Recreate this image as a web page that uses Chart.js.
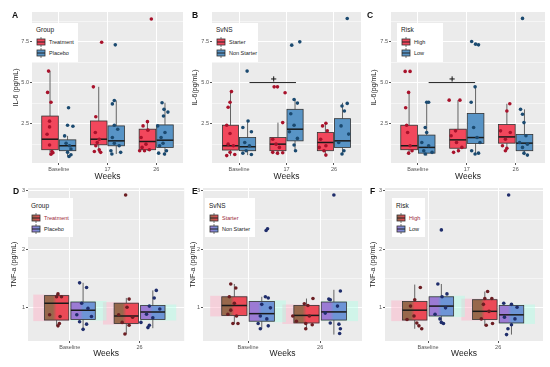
<!DOCTYPE html>
<html>
<head>
<meta charset="utf-8">
<script src="https://cdn.jsdelivr.net/npm/chart.js@4.4.0/dist/chart.umd.min.js"></script>
<style>
body{margin:0;background:#fff;width:550px;height:367px;position:relative;overflow:hidden;font-family:"Liberation Sans",Arial,sans-serif}
canvas{position:absolute}
.tag{position:absolute;font-weight:bold;font-size:8.5px;color:#111;line-height:1}
.lg{position:absolute;background:#fff;font-size:5.5px;color:#222}
.lg .t{font-size:6.5px;line-height:8px;margin:3px 0 2.5px 4px;color:#222}
.lg .k{display:flex;align-items:center;height:11px;padding-left:4px;white-space:nowrap}
.lg svg{margin-right:3px}
</style>
</head>
<body>
<script>
// categories and ticks
const weeksTop = ["Baseline", "17", "26"];
const weeksBottom = ["Baseline", "26"];
const ilMajor = [2.5, 5, 7.5];
const ilLabels = ["2.5", "5.0", "7.5"];
const ilMinor = [1.25, 3.75, 6.25, 8.75];
const tnfMajor = [1, 2, 3];
const tnfLabels = ["1", "2", "3"];
const tnfMinor = [1.5, 2.5];

// box stats per week: [lower whisker, q1, median, q3, upper whisker]
// points: [x on week axis (jittered), value]

// A - IL-6 by Group
const aTreatBox = [[0.65, 0.91, 1.55, 2.96, 5.7], [0.75, 1.21, 1.55, 2.66, 4.74], [0.85, 0.91, 1.41, 2.16, 2.62]];
const aPlaceboBox = [[0.5, 0.85, 1.15, 1.51, 1.75], [0.65, 1.15, 1.45, 2.36, 3.91], [0.54, 1.05, 1.49, 2.42, 3.77]];
const aTreatPts = [[0.79,5.7],[0.77,4.4],[0.84,3.8],[0.81,2.65],[0.81,2.3],[0.76,1.85],[0.81,1.2],[0.86,0.8],[0.84,0.63],[0.88,0.72],
  [1.88,7.46],[1.71,4.74],[1.76,2.92],[1.75,1.96],[1.83,1.55],[1.79,1.35],[1.76,1.15],[1.83,0.9],[1.86,0.75],[1.73,0.8],
  [2.9,8.87],[2.82,2.62],[2.73,2.36],[2.83,2.1],[2.69,1.65],[2.79,1.25],[2.71,1.05],[2.86,0.91],[2.76,0.85],[2.66,0.85]];
const aPlaceboPts = [[1.2,3.47],[1.18,2.4],[1.29,2.34],[1.12,1.75],[1.15,1.3],[1.22,1.15],[1.25,0.95],[1.18,0.75],[1.25,0.6],[1.21,0.5],
  [2.16,7.3],[2.14,3.91],[2.1,3.7],[2.14,2.4],[2.21,2.16],[2.1,1.65],[2.14,1.3],[2.24,1.15],[2.07,0.85],[2.09,0.65],[2.27,0.75],
  [3.12,3.77],[3.16,3.37],[3.24,3.2],[3.15,2.96],[3.03,2.36],[3.18,1.96],[3.1,1.65],[3.14,1.3],[3.07,1.15],[3.21,0.85],[3.17,0.65],[3.05,0.7]];

// B - IL-6 by SvNS
const bStarterBox = [[0.54, 0.89, 1.15, 2.4, 4.48], [0.58, 0.85, 1.25, 1.65, 2.56], [0.54, 0.85, 1.35, 1.96, 2.52]];
const bNonBox = [[0.58, 0.85, 1.09, 1.65, 2.66], [0.85, 1.45, 2.16, 3.37, 3.97], [0.65, 1.05, 1.45, 2.8, 3.77]];
const bStarterPts = [[0.84,4.45],[0.81,3.8],[0.77,3.5],[0.74,2.4],[0.81,1.9],[0.77,1.25],[0.88,1.15],[0.81,0.75],[0.74,0.55],[0.91,0.62],
  [1.74,4.74],[1.81,4.74],[1.97,4.38],[1.92,2.56],[1.71,1.55],[1.78,1.25],[1.85,1.05],[1.71,0.75],[1.81,0.7],[1.92,0.72],
  [2.83,2.52],[2.76,2.36],[2.86,2.06],[2.72,1.55],[2.83,1.15],[2.69,1.05],[2.79,0.85],[2.83,0.58]];
const bNonPts = [[1.17,5.7],[1.19,2.66],[1.08,2.26],[1.26,2.0],[1.12,1.35],[1.22,1.15],[1.15,0.85],[1.08,0.7],[1.26,0.62],
  [2.11,7.28],[2.28,7.48],[2.16,3.97],[2.23,3.75],[2.09,3.1],[2.16,2.4],[2.06,2.0],[2.23,1.6],[2.16,1.2],[2.19,0.85],
  [3.28,8.9],[3.28,3.73],[3.17,3.57],[3.22,3.27],[3.15,2.36],[3.31,1.86],[3.1,1.35],[3.21,0.85],[3.17,0.65]];
const bSigLine = [[1.22, 5.0], [2.2, 5.0]];
const bSigMark = [[1.73, 5.22]];

// C - IL-6 by Risk
const cHighBox = [[0.6, 0.91, 1.15, 2.4, 4.48], [0.75, 1.0, 1.51, 2.16, 3.93], [0.85, 1.31, 1.69, 2.44, 3.71]];
const cLowBox = [[0.55, 0.7, 1.05, 1.8, 3.8], [0.65, 1.29, 1.65, 3.12, 4.74], [0.58, 0.85, 1.31, 1.84, 3.37]];
const cHighPts = [[0.74,5.68],[0.84,5.68],[0.81,4.4],[0.75,3.47],[0.77,2.4],[0.79,1.96],[0.84,1.15],[0.88,0.85],[0.81,0.7],
  [1.64,3.93],[1.86,3.93],[1.77,2.06],[1.68,1.76],[1.79,1.35],[1.9,1.05],[1.83,0.85],[1.73,0.75],
  [2.88,3.71],[2.82,3.27],[2.69,2.06],[2.89,1.96],[2.79,1.55],[2.73,1.15],[2.82,1.0],[2.79,0.85]];
const cLowPts = [[1.18,3.8],[1.22,3.8],[1.15,2.26],[1.18,1.96],[1.08,1.35],[1.22,1.15],[1.12,0.85],[1.15,0.65],[1.29,0.75],
  [2.1,7.5],[2.18,7.34],[2.24,7.3],[2.17,4.74],[2.09,3.8],[2.14,2.26],[2.21,1.65],[2.27,1.35],[2.1,0.85],[2.24,0.7],[2.17,0.65],
  [3.14,8.91],[3.1,3.37],[3.14,3.07],[3.17,2.56],[3.21,1.76],[3.08,1.35],[3.24,1.25],[3.14,1.05],[3.17,0.7],[3.24,0.58]];
const cSigLine = [[1.22, 5.0], [2.17, 5.0]];
const cSigMark = [[1.7, 5.22]];

// D - TNF-a by Group
const dTreatBox = [[0.68, 0.78, 1.07, 1.2, 1.23], [0.54, 0.72, 0.85, 1.07, 1.16]];
const dPlaceboBox = [[0.62, 0.79, 0.95, 1.09, 1.42], [0.64, 0.79, 0.92, 1.03, 1.29]];
const dTreatPts = [[0.83,1.23],[0.81,1.18],[0.88,1.18],[0.71,0.87],[0.86,0.84],[0.85,0.72],[0.83,0.68],
  [1.8,2.93],[1.85,1.14],[1.82,1.0],[1.7,0.87],[1.9,0.83],[1.75,0.74],[1.85,0.69],[1.79,0.54]];
const dPlaceboPts = [[1.14,1.42],[1.24,1.34],[1.17,1.07],[1.26,0.98],[1.1,0.87],[1.31,0.84],[1.14,0.75],[1.24,0.71],[1.19,0.62],
  [2.24,1.29],[2.21,1.16],[2.14,1.02],[2.29,0.97],[2.1,0.88],[2.19,0.82],[2.02,0.74],[2.14,0.69],[2.12,0.65]];

// E - TNF-a by SvNS
const eStarterBox = [[0.72, 0.86, 1.03, 1.18, 1.4], [0.63, 0.73, 0.86, 1.03, 1.15]];
const eNonBox = [[0.63, 0.76, 0.89, 1.1, 1.18], [0.53, 0.78, 0.92, 1.09, 1.3]];
const eStarterPts = [[0.76,1.4],[0.83,1.33],[0.74,1.18],[0.81,1.07],[0.76,0.95],[0.72,0.88],[0.84,0.85],[0.79,0.72],[0.86,0.72],
  [1.9,1.15],[1.78,1.06],[1.83,1.03],[1.62,0.85],[1.85,0.85],[1.67,0.76],[1.8,0.72],[1.89,0.7],[1.8,0.63]];
const eNonPts = [[1.25,2.32],[1.27,2.35],[1.24,1.18],[1.28,1.16],[1.19,1.05],[1.31,0.99],[1.17,0.85],[1.26,0.8],[1.14,0.72],[1.28,0.68],[1.17,0.63],
  [2.19,2.93],[2.28,1.28],[2.12,1.14],[2.14,1.13],[2.24,1.02],[2.07,0.9],[2.14,0.73],[2.26,0.71],[2.28,0.63],[2.27,0.55]];

// F - TNF-a by Risk
const fHighBox = [[0.63, 0.78, 0.95, 1.1, 1.39], [0.69, 0.79, 0.93, 1.13, 1.27]];
const fLowBox = [[0.74, 0.85, 1.02, 1.18, 1.4], [0.53, 0.73, 0.87, 1.03, 1.07]];
const fHighPts = [[0.89,1.34],[0.81,1.13],[0.75,1.02],[0.8,0.85],[0.7,0.79],[0.84,0.73],[0.87,0.68],[0.91,0.63],
  [1.85,1.27],[1.81,1.15],[1.91,1.15],[1.79,1.05],[1.87,0.93],[1.76,0.8],[1.92,0.72],[1.83,0.69]];
const fLowPts = [[1.19,2.33],[1.14,1.4],[1.27,1.23],[1.2,1.18],[1.25,0.99],[1.1,0.88],[1.17,0.8],[1.22,0.72],[1.19,0.74],
  [2.15,2.93],[2.08,1.07],[2.19,1.05],[2.27,1.0],[2.09,0.83],[2.24,0.8],[2.19,0.7],[2.14,0.63],[2.12,0.53]];

const redFill = "#f2475c", blueFill = "#5894c6";
const redDot = "#a8122b", blueDot = "#1b4a70";
const redDotB = "#6b1d22", blueDotB = "#1f2d6b";

// grey panel background
const bgPlugin = {
  id: "panelBg",
  beforeDraw(chart) {
    const a = chart.chartArea, ctx = chart.ctx;
    ctx.save();
    ctx.fillStyle = "#ebebeb";
    ctx.fillRect(a.left, a.top, a.right - a.left, a.bottom - a.top);
    ctx.restore();
  }
};

// boxes + whiskers drawn under the points
const boxPlugin = {
  id: "boxplot",
  beforeDatasetsDraw(chart, args, opts) {
    const ctx = chart.ctx, x = chart.scales.x, y = chart.scales.y, a = chart.chartArea;
    ctx.save();
    ctx.beginPath();
    ctx.rect(a.left, a.top, a.right - a.left, a.bottom - a.top);
    ctx.clip();
    opts.groups.forEach(g => {
      g.stats.forEach((s, i) => {
        const c = i + 1 + g.off;
        const xl = x.getPixelForValue(c - opts.half);
        const xr = x.getPixelForValue(c + opts.half);
        const xm = x.getPixelForValue(c);
        const lo = y.getPixelForValue(s[0]), q1 = y.getPixelForValue(s[1]),
          md = y.getPixelForValue(s[2]), q3 = y.getPixelForValue(s[3]), hi = y.getPixelForValue(s[4]);
        if (g.halo) {
          const ext = x.getPixelForValue(c + opts.half + 0.16) - xr;
          ctx.fillStyle = g.halo;
          if (g.off < 0) ctx.fillRect(xl - ext, q3 - 1, xr - xl + ext, q1 - q3 + 2);
          else ctx.fillRect(xl, q3 - 1, xr - xl + ext, q1 - q3 + 2);
        }
        ctx.strokeStyle = "#555";
        ctx.lineWidth = 0.9;
        ctx.beginPath();
        ctx.moveTo(xm, hi); ctx.lineTo(xm, q3);
        ctx.moveTo(xm, q1); ctx.lineTo(xm, lo);
        ctx.stroke();
        if (g.fill2) {
          const gr = ctx.createLinearGradient(xl, 0, xr, 0);
          gr.addColorStop(0, g.fill2);
          gr.addColorStop(0.35, g.fill2);
          gr.addColorStop(0.5, g.fill);
          gr.addColorStop(1, g.fill);
          ctx.fillStyle = gr;
        } else {
          ctx.fillStyle = g.fill;
        }
        ctx.fillRect(xl, q3, xr - xl, q1 - q3);
        ctx.strokeStyle = "#333";
        ctx.lineWidth = 0.8;
        ctx.strokeRect(xl, q3, xr - xl, q1 - q3);
        ctx.lineWidth = 1.5;
        ctx.strokeStyle = "#1a1a1a";
        ctx.beginPath();
        ctx.moveTo(xl, md); ctx.lineTo(xr, md);
        ctx.stroke();
      });
    });
    ctx.restore();
  }
};

function toXY(arr) {
  return arr.map(p => ({ x: p[0], y: p[1] }));
}

function makePanel(p) {
  const cv = document.createElement("canvas");
  cv.width = p.w;
  cv.height = p.h;
  cv.style.left = p.left + "px";
  cv.style.top = p.top + "px";
  document.body.appendChild(cv);

  const datasets = [];
  p.groups.forEach(g => {
    datasets.push({ data: toXY(g.pts), backgroundColor: g.dot, borderWidth: 0, pointRadius: 1.8, pointHoverRadius: 1.8 });
  });
  if (p.sigLine) {
    datasets.push({ data: toXY(p.sigLine), showLine: true, borderColor: "#222", borderWidth: 1, pointRadius: 0 });
    datasets.push({ data: toXY(p.sigMark), pointStyle: "cross", pointRadius: 2.6, borderColor: "#111", borderWidth: 1 });
  }

  const isMinor = ctx => ctx.tick && p.minor.includes(ctx.tick.value);

  new Chart(cv, {
    type: "scatter",
    data: { datasets: datasets },
    options: {
      responsive: false,
      animation: false,
      events: [],
      layout: { padding: { top: p.padTop, right: p.padRight, left: p.padLeft, bottom: 0 } },
      plugins: {
        legend: { display: false },
        tooltip: { enabled: false },
        boxplot: { groups: p.groups, half: p.half }
      },
      scales: {
        x: {
          type: "linear",
          min: p.xmin,
          max: p.xmax,
          afterBuildTicks: s => { s.ticks = p.cats.map((c, i) => ({ value: i + 1 })); },
          ticks: {
            callback: v => p.cats[Math.round(v) - 1],
            font: { size: 5.5, family: "Liberation Sans" },
            color: "#555",
            padding: 1,
            maxRotation: 0,
            autoSkip: false
          },
          grid: { color: "#ffffff", lineWidth: 1, tickLength: 2, tickColor: "#555" },
          border: { display: false },
          title: { display: true, text: "Weeks", font: { size: 8.5, family: "Liberation Sans" }, color: "#222", padding: 0 },
          afterFit: s => { s.height = p.xh; }
        },
        y: {
          type: "linear",
          min: p.ymin,
          max: p.ymax,
          afterBuildTicks: s => { s.ticks = p.major.concat(p.minor).sort((a, b) => a - b).map(v => ({ value: v })); },
          ticks: {
            callback: v => { const k = p.major.indexOf(v); return k < 0 ? "" : p.majorLabels[k]; },
            font: { size: 5.5, family: "Liberation Sans" },
            color: "#555",
            padding: 1,
            autoSkip: false
          },
          grid: {
            color: "#ffffff",
            lineWidth: ctx => isMinor(ctx) ? 0.5 : 1,
            tickLength: 2,
            tickColor: ctx => isMinor(ctx) ? "rgba(0,0,0,0)" : "#555"
          },
          border: { display: false },
          title: { display: true, text: p.ytitle, font: { size: 7, family: "Liberation Sans" }, color: "#222", padding: 0 },
          afterFit: s => { s.width = p.yw; }
        }
      }
    },
    plugins: [bgPlugin, boxPlugin]
  });

  // panel letter
  const tag = document.createElement("div");
  tag.className = "tag";
  tag.textContent = p.tag;
  tag.style.left = p.tagX + "px";
  tag.style.top = p.tagY + "px";
  document.body.appendChild(tag);

  // legend
  const lg = document.createElement("div");
  lg.className = "lg";
  lg.style.left = p.lg[0] + "px";
  lg.style.top = p.lg[1] + "px";
  lg.style.width = p.lg[2] + "px";
  lg.style.height = p.lg[3] + "px";
  let html = '<div class="t" style="margin-top:' + p.lgPad + 'px">' + p.lgTitle + "</div>";
  p.groups.forEach((g, i) => {
    const id = p.tag + i;
    const fill = g.fill2 ? "url(#g" + id + ")" : g.fill;
    const grad = g.fill2 ? '<defs><linearGradient id="g' + id + '"><stop offset="0" stop-color="' + g.fill2 + '"/><stop offset="1" stop-color="' + g.fill + '"/></linearGradient></defs>' : "";
    const svg = '<svg width="10" height="10" viewBox="0 0 10 10">' + grad +
      '<line x1="5" y1="0" x2="5" y2="10" stroke="#555" stroke-width="0.8"/>' +
      '<rect x="1" y="2" width="8" height="6" fill="' + fill + '" stroke="#333" stroke-width="0.8"/>' +
      '<line x1="1" y1="5" x2="9" y2="5" stroke="#222" stroke-width="1"/></svg>';
    const col = (p.bottom && i === 0) ? "#9a2a3a" : "#222";
    html += '<div class="k" style="color:' + col + '">' + svg + g.name + "</div>";
  });
  lg.innerHTML = html;
  document.body.appendChild(lg);
}

const topBase = { top: 0, h: 182, padTop: 12, xh: 19, ymin: 0.1, ymax: 9.3, cats: weeksTop,
  major: ilMajor, majorLabels: ilLabels, minor: ilMinor, half: 0.17, tagY: 11, lgPad: 3 };
const botBase = { top: 182, h: 177, padTop: 6, xh: 18, ymin: 0.42, ymax: 3.05, cats: weeksBottom,
  major: tnfMajor, majorLabels: tnfLabels, minor: tnfMinor, half: 0.175, tagY: 187, lgPad: 4, bottom: true,
  ytitle: "TNF-a (pg/mL)" };

const redHalo = "rgba(255,175,198,0.45)", blueHalo = "rgba(175,255,230,0.45)";
const brown = "#98684c", redB = "#ec4a57", purple = "#9b7bd4", blueB = "#6d95d6";

const panels = [
  Object.assign({}, topBase, { tag: "A", tagX: 12, left: 0, w: 186, padLeft: 12, yw: 20, padRight: 3, xmin: 0.45, xmax: 3.55,
    ytitle: "IL-6 (pg/mL)", lgTitle: "Group", lg: [32, 23, 46, 39],
    groups: [
      { name: "Treatment", stats: aTreatBox, pts: aTreatPts, off: -0.18, fill: redFill, dot: redDot },
      { name: "Placebo", stats: aPlaceboBox, pts: aPlaceboPts, off: 0.18, fill: blueFill, dot: blueDot }
    ] }),
  Object.assign({}, topBase, { tag: "B", tagX: 192, left: 180, w: 186, padLeft: 11, yw: 21, padRight: 4, xmin: 0.43, xmax: 3.57,
    ytitle: "IL-6(pg/mL)", lgTitle: "SvNS", lg: [212, 23, 46, 39], sigLine: bSigLine, sigMark: bSigMark,
    groups: [
      { name: "Starter", stats: bStarterBox, pts: bStarterPts, off: -0.18, fill: redFill, dot: redDot },
      { name: "Non Starter", stats: bNonBox, pts: bNonPts, off: 0.18, fill: blueFill, dot: blueDot }
    ] }),
  Object.assign({}, topBase, { tag: "C", tagX: 367, left: 365, w: 185, padLeft: 5, yw: 21, padRight: 5, xmin: 0.45, xmax: 3.6,
    ytitle: "IL-6(pg/mL)", lgTitle: "Risk", lg: [397, 23, 46, 39], sigLine: cSigLine, sigMark: cSigMark,
    groups: [
      { name: "High", stats: cHighBox, pts: cHighPts, off: -0.18, fill: redFill, dot: redDot },
      { name: "Low", stats: cLowBox, pts: cLowPts, off: 0.18, fill: blueFill, dot: blueDot }
    ] }),
  Object.assign({}, botBase, { tag: "D", tagX: 13, left: 0, w: 186, padLeft: 10, yw: 18, padRight: 1, xmin: 0.4, xmax: 2.64,
    lgTitle: "Group", lg: [27, 198, 46, 39],
    groups: [
      { name: "Treatment", stats: dTreatBox, pts: dTreatPts, off: -0.19, fill: redB, fill2: brown, halo: redHalo, dot: redDotB },
      { name: "Placebo", stats: dPlaceboBox, pts: dPlaceboPts, off: 0.19, fill: blueB, fill2: purple, halo: blueHalo, dot: blueDotB }
    ] }),
  Object.assign({}, botBase, { tag: "E", tagX: 192, left: 180, w: 185, padLeft: 9, yw: 14, padRight: 3, xmin: 0.375, xmax: 2.58,
    lgTitle: "SvNS", lg: [205, 198, 50, 39],
    groups: [
      { name: "Starter", stats: eStarterBox, pts: eStarterPts, off: -0.19, fill: redB, fill2: brown, halo: redHalo, dot: redDotB },
      { name: "Non Starter", stats: eNonBox, pts: eNonPts, off: 0.19, fill: blueB, fill2: purple, halo: blueHalo, dot: blueDotB }
    ] }),
  Object.assign({}, botBase, { tag: "F", tagX: 370, left: 365, w: 185, padLeft: 4, yw: 16, padRight: 7, xmin: 0.386, xmax: 2.64,
    lgTitle: "Risk", lg: [392, 198, 33, 39],
    groups: [
      { name: "High", stats: fHighBox, pts: fHighPts, off: -0.19, fill: redB, fill2: brown, halo: redHalo, dot: redDotB },
      { name: "Low", stats: fLowBox, pts: fLowPts, off: 0.19, fill: blueB, fill2: purple, halo: blueHalo, dot: blueDotB }
    ] })
];

panels.forEach(makePanel);
</script>
</body>
</html>
